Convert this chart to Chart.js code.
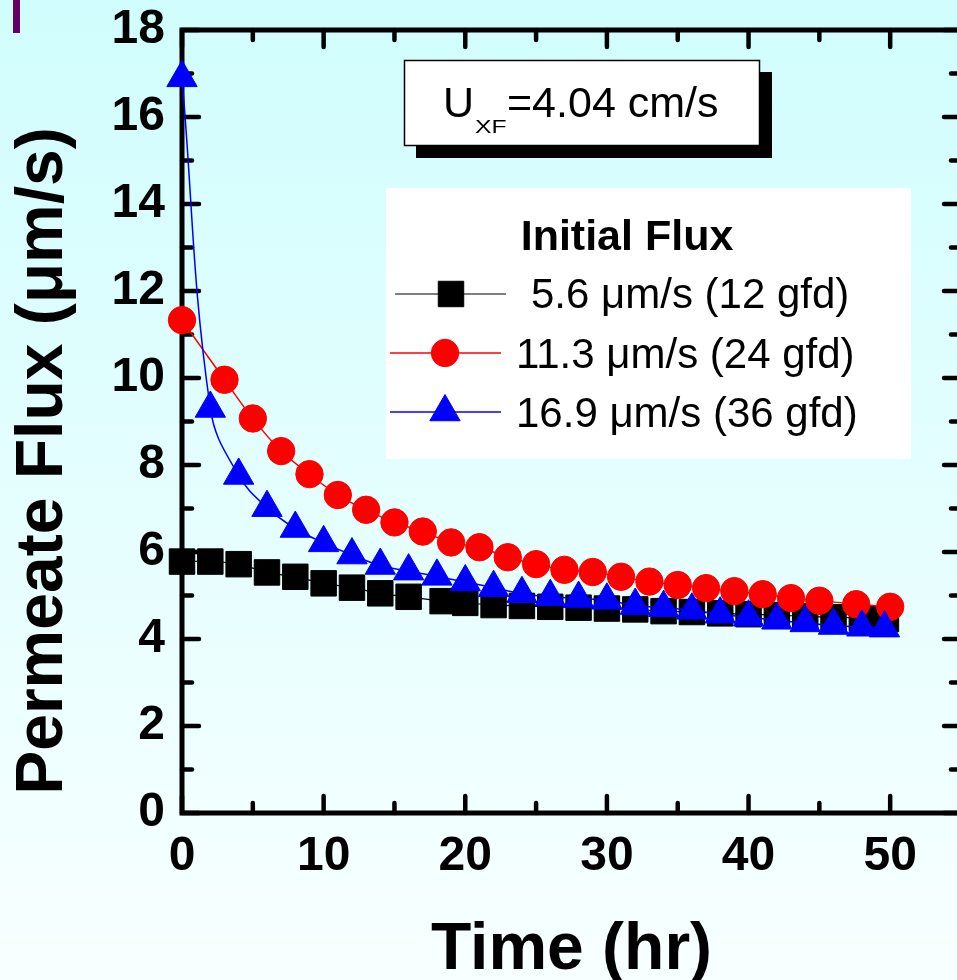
<!DOCTYPE html>
<html><head><meta charset="utf-8">
<script src="https://cdn.jsdelivr.net/npm/chart.js@4/dist/chart.umd.min.js"></script>
<style>
html,body{margin:0;padding:0;overflow:hidden;background:#E6FFFF;width:957px;height:980px;}
#wrap{width:980px;height:980px;}
canvas{display:block;}
</style></head><body>
<div id="wrap"><canvas id="c" width="980" height="980"></canvas></div>
<script>
// ---- data ----
const blackTime = [0,2,4,6,8,10,12,14,16,18.4,20,22,24,26,28,30,32,34,36,38,40,42,44,46,48,49.7];
const blackFlux = [5.78,5.78,5.72,5.53,5.43,5.28,5.18,5.05,4.97,4.87,4.83,4.78,4.76,4.74,4.72,4.70,4.68,4.64,4.62,4.59,4.57,4.55,4.52,4.50,4.48,4.46];
const redTime = [0,3,5,7,9,11,13,15,17,19,21,23,25,27,29,31,33,35,37,39,41,43,45,47.6,50];
const redFlux = [11.33,9.96,9.07,8.32,7.79,7.31,6.97,6.68,6.47,6.22,6.11,5.88,5.72,5.59,5.54,5.43,5.32,5.24,5.17,5.10,5.03,4.94,4.88,4.80,4.74];
const blueTime = [0,2,4,6,8,10,12,14,16,18,20,22,24,26,28,30,32,34,36,38,40,42,44,46,48,49.6];
const blueFlux = [16.9,9.3,7.76,7.02,6.54,6.21,5.93,5.69,5.56,5.44,5.31,5.18,5.04,4.97,4.93,4.89,4.77,4.72,4.66,4.57,4.50,4.43,4.37,4.31,4.27,4.25];

const seriesLabels = ['5.6 \u03bcm/s (12 gfd)', '11.3 \u03bcm/s (24 gfd)', '16.9 \u03bcm/s (36 gfd)'];
const legendTitle = 'Initial Flux';
const xTitle = 'Time (hr)';
const yTitle = 'Permeate Flux (\u03bcm/s)';
const noteMain = 'U';
const noteSub = 'XF';
const noteRest = '=4.04 cm/s';

const xMajorTicks = [0,10,20,30,40,50];
const xMinorTicks = [5,15,25,35,45];
const yMajorTicks = [0,2,4,6,8,10,12,14,16,18];
const yMinorTicks = [1,3,5,7,9,11,13,15,17];

const FONT = '"Liberation Sans", Arial, Helvetica, sans-serif';
Chart.defaults.font.family = FONT;

function pts(t, v){ return t.map((x,i)=>({x:x, y:v[i]})); }

const styles = [
  {color:'#000000', pointStyle:'rect', radius:18, lw:1.2},
  {color:'#FF0000', pointStyle:'circle', radius:13.7, lw:1.5},
  {color:'#0000FF', pointStyle:'triangle', radius:17.5, lw:1.5}
];

const decor = {
  id:'decor',
  beforeDraw(chart){
    const ctx = chart.ctx;
    const g = ctx.createLinearGradient(0,0,0,chart.height);
    g.addColorStop(0,'#D0FDFD');
    g.addColorStop(1,'#F8FFFF');
    ctx.save();
    ctx.fillStyle = g;
    ctx.fillRect(0,0,chart.width,chart.height);
    ctx.fillStyle = '#660066';
    ctx.fillRect(13,0,7,33);
    ctx.restore();
  },
  beforeDatasetsDraw(chart){
    const ctx = chart.ctx, a = chart.chartArea;
    const xs = chart.scales.x, ys = chart.scales.y;
    ctx.save();
    // annotation box with shadow
    ctx.fillStyle = '#000';
    ctx.fillRect(416,72,356,86);
    ctx.fillStyle = '#fff';
    ctx.fillRect(404,60,356,86);
    ctx.lineWidth = 1.5;
    ctx.strokeStyle = '#000';
    ctx.strokeRect(404.5,60.5,355,85);
    ctx.fillStyle = '#000';
    ctx.textBaseline = 'alphabetic';
    ctx.textAlign = 'left';
    ctx.font = '43px ' + FONT;
    ctx.fillText(noteMain, 443, 117);
    ctx.save();
    ctx.translate(475,133);
    ctx.scale(1.3,1);
    ctx.font = '19px ' + FONT;
    ctx.fillText(noteSub, 0, 0);
    ctx.restore();
    ctx.font = '43px ' + FONT;
    ctx.fillText(noteRest, 507, 117);

    // legend box
    ctx.fillStyle = '#FFFFFF';
    ctx.fillRect(386,188,525,271);

    // frame
    ctx.strokeStyle = '#000';
    ctx.lineWidth = 5;
    ctx.strokeRect(a.left, a.top, a.right - a.left, a.bottom - a.top);
    ctx.lineWidth = 4.5;
    ctx.lineCap = 'round';
    const tick = (x1,y1,x2,y2)=>{ctx.beginPath();ctx.moveTo(x1,y1);ctx.lineTo(x2,y2);ctx.stroke();};
    const MJ = 17, MN = 10;
    xMajorTicks.forEach(v=>{const p=xs.getPixelForValue(v); tick(p,a.bottom,p,a.bottom-MJ); tick(p,a.top,p,a.top+MJ);});
    xMinorTicks.forEach(v=>{const p=xs.getPixelForValue(v); tick(p,a.bottom,p,a.bottom-MN); tick(p,a.top,p,a.top+MN);});
    yMajorTicks.forEach(v=>{const p=ys.getPixelForValue(v); tick(a.left,p,a.left+MJ,p); tick(a.right,p,a.right-MJ,p);});
    yMinorTicks.forEach(v=>{const p=ys.getPixelForValue(v); tick(a.left,p,a.left+MN,p); tick(a.right,p,a.right-MN,p);});
    ctx.lineCap = 'butt';

    // axis titles
    ctx.fillStyle = '#000';
    ctx.font = 'bold 66px ' + FONT;
    ctx.textAlign = 'center';
    ctx.textBaseline = 'alphabetic';
    ctx.fillText(xTitle, (a.left + a.right)/2, 969);
    ctx.save();
    ctx.translate(62, 461);
    ctx.rotate(-Math.PI/2);
    ctx.fillText(yTitle, 0, 0);
    ctx.restore();
    ctx.restore();
  },
  afterDatasetsDraw(chart){
    const ctx = chart.ctx;
    ctx.save();
    ctx.fillStyle = '#000';
    ctx.textAlign = 'center';
    ctx.textBaseline = 'alphabetic';
    ctx.font = 'bold 43px ' + FONT;
    ctx.fillText(legendTitle, 627, 250);
    const rows = [
      {y:294, mx:451, l1:395, l2:506, tx:531},
      {y:353, mx:445, l1:390, l2:501, tx:516},
      {y:412, mx:445, l1:390, l2:501, tx:516}
    ];
    const base = [308, 368, 427];
    rows.forEach((r,i)=>{
      const s = styles[i];
      ctx.strokeStyle = s.color;
      ctx.lineWidth = s.lw;
      ctx.beginPath(); ctx.moveTo(r.l1, r.y); ctx.lineTo(r.l2, r.y); ctx.stroke();
      ctx.fillStyle = s.color;
      ctx.strokeStyle = s.color;
      ctx.lineWidth = 1;
      Chart.helpers.drawPoint(ctx, {pointStyle:s.pointStyle, radius:s.radius, borderWidth:1, rotation:0}, r.mx, r.y);
      ctx.fillStyle = '#000';
      ctx.textAlign = 'left';
      ctx.font = '42px ' + FONT;
      ctx.fillText(seriesLabels[i], r.tx, base[i]);
    });
    ctx.restore();
  }
};

const sets = [
  {label:seriesLabels[0], data:pts(blackTime, blackFlux), s:styles[0], order:3},
  {label:seriesLabels[1], data:pts(redTime, redFlux), s:styles[1], order:2},
  {label:seriesLabels[2], data:pts(blueTime, blueFlux), s:styles[2], order:1}
].map(d=>({
  label:d.label, data:d.data, order:d.order,
  borderColor:d.s.color, backgroundColor:d.s.color, borderWidth:d.s.lw,
  pointStyle:d.s.pointStyle, pointRadius:d.s.radius, pointHoverRadius:d.s.radius,
  pointBackgroundColor:d.s.color, pointBorderColor:d.s.color, pointBorderWidth:1,
  tension:0.4, fill:false, clip:false
}));

new Chart(document.getElementById('c'), {
  type:'line',
  data:{datasets:sets},
  plugins:[decor],
  options:{
    responsive:false, animation:false, devicePixelRatio:1,
    layout:{padding:{top:30, right:15, left:0, bottom:0}},
    plugins:{legend:{display:false}, tooltip:{enabled:false}},
    scales:{
      x:{type:'linear', min:0, max:55,
         afterBuildTicks:(sc)=>{sc.ticks = xMajorTicks.map(v=>({value:v}));},
         afterFit:(sc)=>{sc.height = 167; sc.paddingLeft = 0; sc.paddingRight = 0;},
         grid:{display:false, drawTicks:false}, border:{display:false},
         ticks:{color:'#000', padding:15, maxRotation:0, font:{size:48, weight:'bold'}}},
      y:{type:'linear', min:0, max:18,
         afterBuildTicks:(sc)=>{sc.ticks = yMajorTicks.map(v=>({value:v}));},
         afterFit:(sc)=>{sc.width = 182; sc.paddingTop = 0; sc.paddingBottom = 0;},
         grid:{display:false, drawTicks:false}, border:{display:false},
         ticks:{color:'#000', padding:17, font:{size:48, weight:'bold'}}}
    }
  }
});
</script>
</body></html>
